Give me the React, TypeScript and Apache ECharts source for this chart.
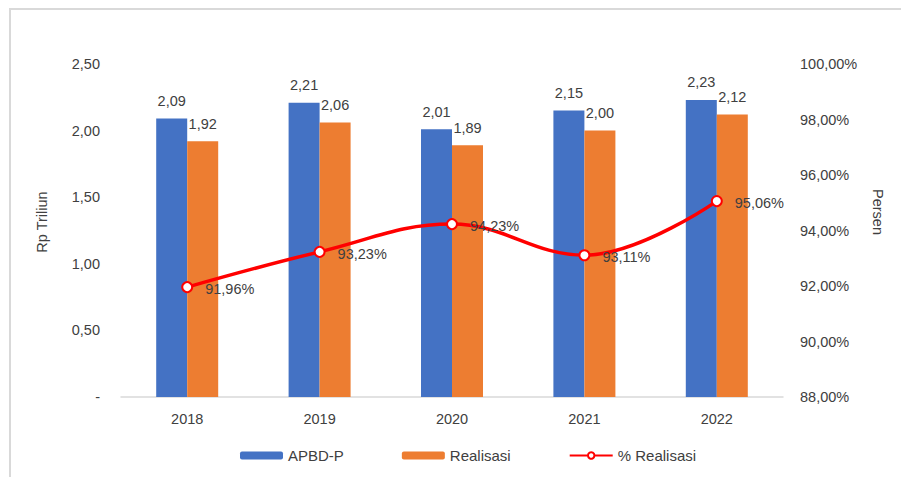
import React, { useEffect, useRef } from "react";
import * as echarts from "echarts";

const years = ["2018", "2019", "2020", "2021", "2022"];
const apbdP = [2.09, 2.21, 2.01, 2.15, 2.23];
const realisasi = [1.92, 2.06, 1.89, 2.0, 2.12];
const persenRealisasi = [91.96, 93.23, 94.23, 93.11, 95.06];

const FONT = "Liberation Sans, Arial, sans-serif";
const TXT = "#404040";
const FS = 14.5;

const fmt2 = (v: number) => v.toFixed(2).replace(".", ",");

export default function App() {
  const ref = useRef<HTMLDivElement>(null);
  useEffect(() => {
    if (!ref.current) return;
    const chart = echarts.init(ref.current, undefined, { renderer: "svg" });
    chart.setOption({
      animation: false,
      backgroundColor: "#ffffff",
      textStyle: { fontFamily: FONT, color: TXT },
      grid: { left: 121, right: 118, top: 64, bottom: 80 },
      legend: {
        left: 235,
        top: 443,
        itemGap: 58,
        itemWidth: 43,
        itemHeight: 8,
        textStyle: { fontFamily: FONT, fontSize: 15, color: TXT },
        data: [
          { name: "APBD-P" },
          { name: "Realisasi" },
          { name: "% Realisasi" },
        ],
      },
      graphic: [
        {
          type: "rect",
          shape: { x: 10, y: 9, width: 1000, height: 1000 },
          style: { fill: "none", stroke: "#d9d9d9", lineWidth: 2 },
          silent: true,
        },
        {
          type: "text",
          x: 42,
          y: 222,
          rotation: Math.PI / 2,
          style: {
            text: "Rp Triliun",
            fontFamily: FONT,
            fontSize: FS,
            fill: TXT,
            align: "center",
            verticalAlign: "middle",
          },
        },
        {
          type: "text",
          x: 878,
          y: 212,
          rotation: -Math.PI / 2,
          style: {
            text: "Persen",
            fontFamily: FONT,
            fontSize: FS,
            fill: TXT,
            align: "center",
            verticalAlign: "middle",
          },
        },
      ],
      xAxis: {
        type: "category",
        data: years,
        axisLine: { lineStyle: { color: "#d9d9d9", width: 1.5 } },
        axisTick: { show: false },
        axisLabel: { fontFamily: FONT, fontSize: FS, color: TXT, margin: 14 },
      },
      yAxis: [
        {
          type: "value",
          min: 0,
          max: 2.5,
          interval: 0.5,
          splitLine: { show: false },
          axisLine: { show: false },
          axisTick: { show: false },
          axisLabel: {
            fontFamily: FONT,
            fontSize: FS,
            color: TXT,
            margin: 21,
            formatter: (v: number) => (v === 0 ? "-" : fmt2(v)),
          },
        },
        {
          type: "value",
          min: 88,
          max: 100,
          interval: 2,
          splitLine: { show: false },
          axisLine: { show: false },
          axisTick: { show: false },
          axisLabel: {
            fontFamily: FONT,
            fontSize: FS,
            color: TXT,
            margin: 17,
            formatter: (v: number) => fmt2(v) + "%",
          },
        },
      ],
      series: [
        {
          name: "APBD-P",
          type: "bar",
          data: apbdP,
          barWidth: 31,
          barGap: "0%",
          itemStyle: { color: "#4472C4" },
          label: {
            show: true,
            position: "top",
            distance: 10,
            fontFamily: FONT,
            fontSize: FS,
            color: TXT,
            formatter: (p: any) => fmt2(p.value),
          },
        },
        {
          name: "Realisasi",
          type: "bar",
          data: realisasi,
          barWidth: 31,
          barGap: "0%",
          itemStyle: { color: "#ED7D31" },
          label: {
            show: true,
            position: "top",
            distance: 10,
            fontFamily: FONT,
            fontSize: FS,
            color: TXT,
            formatter: (p: any) => fmt2(p.value),
          },
        },
        {
          name: "% Realisasi",
          type: "line",
          yAxisIndex: 1,
          data: persenRealisasi,
          smooth: 0.4,
          symbol: "circle",
          symbolSize: 10,
          lineStyle: { color: "#FF0000", width: 3.5 },
          itemStyle: { color: "#ffffff", borderColor: "#FF0000", borderWidth: 2 },
          label: {
            show: true,
            position: "right",
            distance: 12,
            offset: [0, 2],
            fontFamily: FONT,
            fontSize: FS,
            color: TXT,
            formatter: (p: any) => fmt2(p.value) + "%",
          },
          z: 5,
        },
      ],
    });
    return () => chart.dispose();
  }, []);
  return (
    <div
      ref={ref}
      style={{ position: "absolute", left: 0, top: 0, width: 901, height: 477 }}
    />
  );
}
